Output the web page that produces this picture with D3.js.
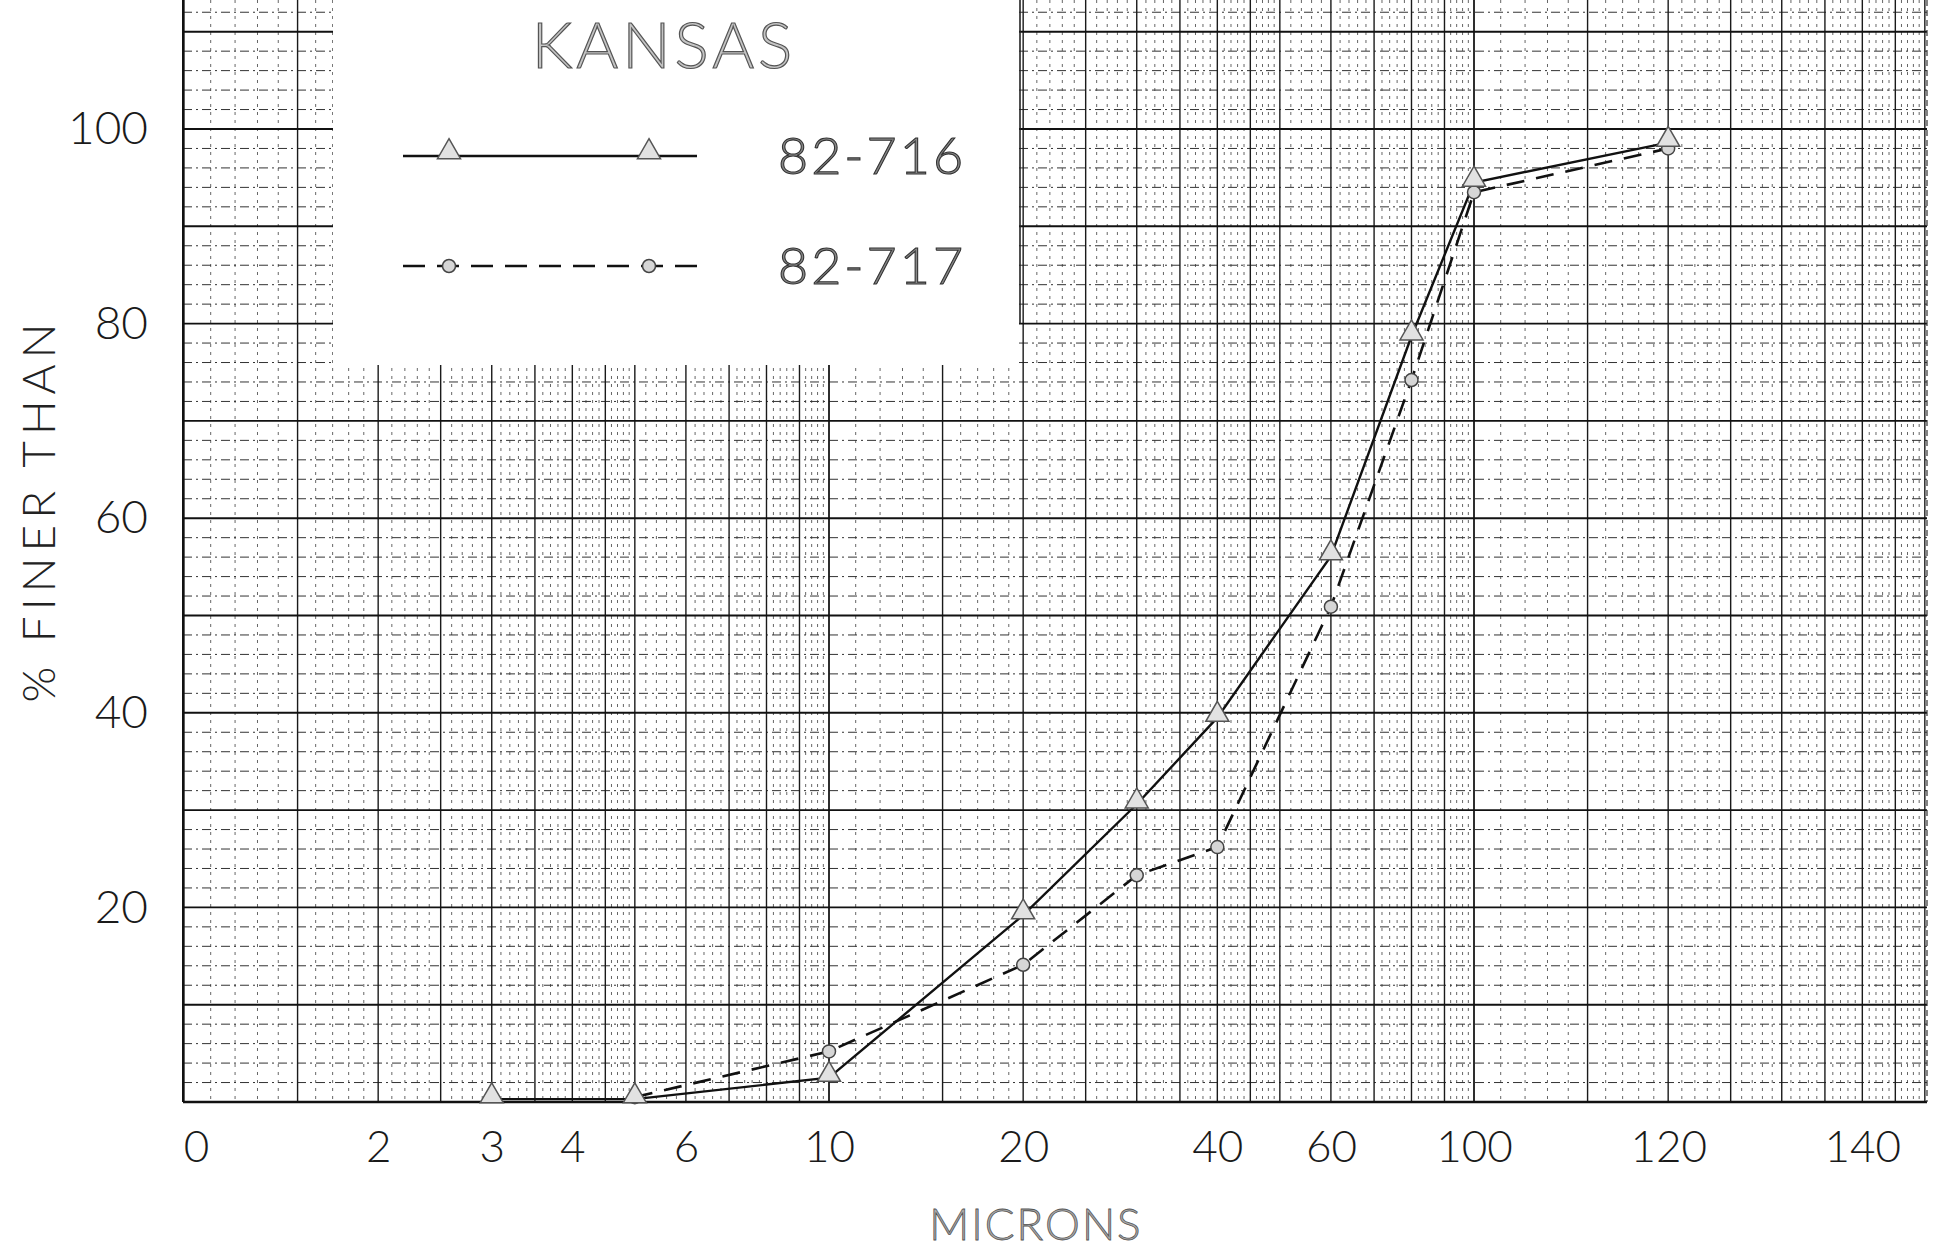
<!DOCTYPE html>
<html>
<head>
<meta charset="utf-8">
<script src="https://cdn.jsdelivr.net/npm/d3@7"></script>
<style>
  body { margin: 0; background: #fff; }
  text { font-family: Lato, "DejaVu Sans", sans-serif; font-weight: 300; }
</style>
</head>
<body>
<svg id="chart"></svg>
<script>
// particle size (microns, as labelled on the sheet) and % finer than
const sizes716 = [3, 5, 10, 20, 30, 40, 60, 80, 100, 120];
const finer716 = [0.3, 0.3, 2.5, 19.2, 30.6, 39.5, 56.1, 78.7, 94.5, 98.6];
const sizes717 = [5, 10, 20, 30, 40, 60, 80, 100, 120];
const finer717 = [0.5, 5.2, 14.1, 23.3, 26.2, 50.9, 74.2, 93.5, 98.0];

const micronTicks = [0, 2, 3, 4, 6, 10, 20, 40, 60, 100, 120, 140];
const percentTicks = [20, 40, 60, 80, 100];
const seriesNames = ["82-716", "82-717"];

let width = 1934, height = 1249;
const left = 183, right = 1927, bottom = 1102;

const svg = d3.select("#chart")
    .attr("width", width)
    .attr("height", height);

svg.append("rect").attr("width", width).attr("height", height).attr("fill", "#fff");

// semi-log sheet, 645px per decade
const paper = d3.scaleLog().domain([1, 1000]).range([left + 1, left + 1 + 3 * 645]);
// the sheet was labelled oddly: 0 sits on 1, and 120 / 140 sit on 200 / 400
const toPaper = v => v <= 100 ? Math.max(v, 1) : 100 * Math.pow(2, (v - 100) / 20);
const x = v => paper(toPaper(v));

const y = d3.scaleLinear().domain([0, 100]).range([bottom, 129]);

// grid values
let heavyX = [], minorX = [];
[1, 10, 100].forEach(dec => {
    for (let m = 1; m < 10; m += 0.1) {
        const mm = Math.round(m * 10) / 10;
        if (mm > 5 && Math.round(mm * 10) % 2 === 1) continue;
        const heavy = (mm <= 5 && Math.round(mm * 10) % 5 === 0) || (mm > 5 && Number.isInteger(mm));
        const v = mm * dec;
        if (paper(v) > right) continue;
        (heavy ? heavyX : minorX).push(v);
    }
});

let heavyY = [], minorY = [];
for (let v = 0; y(v) >= 0; v += 2) {
    (v % 10 === 0 ? heavyY : minorY).push(v);
}

const grid = svg.append("g").attr("class", "grid");

grid.selectAll(".vminor").data(minorX).enter().append("line")
    .attr("x1", d => paper(d)).attr("x2", d => paper(d))
    .attr("y1", 0).attr("y2", bottom)
    .attr("stroke", "#555").attr("stroke-width", 0.9)
    .attr("stroke-dasharray", "3,5");

grid.selectAll(".hminor").data(minorY).enter().append("line")
    .attr("x1", left).attr("x2", right)
    .attr("y1", d => y(d)).attr("y2", d => y(d))
    .attr("stroke", "#333").attr("stroke-width", 1)
    .attr("stroke-dasharray", "9,4,2,4");

grid.selectAll(".vheavy").data(heavyX).enter().append("line")
    .attr("x1", d => paper(d)).attr("x2", d => paper(d))
    .attr("y1", 0).attr("y2", bottom)
    .attr("stroke", "#1a1a1a").attr("stroke-width", 1.4);

grid.selectAll(".hheavy").data(heavyY).enter().append("line")
    .attr("x1", left).attr("x2", right)
    .attr("y1", d => y(d)).attr("y2", d => y(d))
    .attr("stroke", "#111").attr("stroke-width", d => d === 0 ? 2.4 : 1.9);

grid.append("line").attr("x1", left).attr("x2", left).attr("y1", 0).attr("y2", bottom)
    .attr("stroke", "#111").attr("stroke-width", 2);
grid.append("line").attr("x1", right).attr("x2", right).attr("y1", 0).attr("y2", bottom)
    .attr("stroke", "#333").attr("stroke-width", 1.2).attr("stroke-dasharray", "6,4");

// pasted-over legend patch
svg.append("rect").attr("x", 333).attr("y", 0).attr("width", 686).attr("height", 365).attr("fill", "#fff");
svg.append("line").attr("x1", 1020).attr("x2", 1020).attr("y1", 0).attr("y2", y(80))
    .attr("stroke", "#222").attr("stroke-width", 1.6);

// axes (numbers only)
const xAxis = d3.axisBottom(paper)
    .tickValues(micronTicks.map(toPaper))
    .tickFormat((d, i) => micronTicks[i])
    .tickSize(0).tickPadding(29);
const gx = svg.append("g").attr("transform", `translate(0,${bottom})`).call(xAxis);
gx.select(".domain").remove();
gx.selectAll("text").attr("font-size", 44).attr("fill", "#1a1a1a")
    .attr("dx", (d, i) => i === 0 ? 12 : 0)
    .style("font-family", "Lato, 'DejaVu Sans', sans-serif").style("font-weight", 300);

const yAxis = d3.axisLeft(y).tickValues(percentTicks).tickSize(0).tickPadding(35);
const gy = svg.append("g").attr("transform", `translate(${left},0)`).call(yAxis);
gy.select(".domain").remove();
gy.selectAll("text").attr("font-size", 46).attr("fill", "#1a1a1a")
    .style("font-family", "Lato, 'DejaVu Sans', sans-serif").style("font-weight", 300);

svg.append("text").attr("x", 1036).attr("y", 1240).attr("text-anchor", "middle")
    .attr("font-size", 44).attr("letter-spacing", 2)
    .attr("fill", "#aaa").attr("stroke", "#555").attr("stroke-width", 0.8)
    .text("MICRONS");

svg.append("text").attr("transform", "translate(55,510) rotate(-90)")
    .attr("text-anchor", "middle").attr("font-size", 46).attr("letter-spacing", 6)
    .attr("fill", "#222")
    .text("% FINER THAN");

// series
const data716 = sizes716.map((s, i) => ({s: s, v: finer716[i]}));
const data717 = sizes717.map((s, i) => ({s: s, v: finer717[i]}));

const line = d3.line().x(d => x(d.s)).y(d => y(d.v));

svg.append("path").datum(data717).attr("d", line)
    .attr("fill", "none").attr("stroke", "#111").attr("stroke-width", 2.6)
    .attr("stroke-dasharray", "18,12");
svg.append("path").datum(data716).attr("d", line)
    .attr("fill", "none").attr("stroke", "#111").attr("stroke-width", 2.4);

const tri = d3.symbol(d3.symbolTriangle).size(230);

svg.selectAll(".c717").data(data717).enter().append("circle")
    .attr("cx", d => x(d.s)).attr("cy", d => y(d.v)).attr("r", 6.5)
    .attr("fill", "#d6d6d6").attr("stroke", "#444").attr("stroke-width", 1.5);
svg.selectAll(".t716").data(data716).enter().append("path")
    .attr("d", tri)
    .attr("transform", d => `translate(${x(d.s)},${y(d.v) - 3})`)
    .attr("fill", "#e2e2e2").attr("stroke", "#555").attr("stroke-width", 1.5);

// legend
svg.append("text").attr("x", 664).attr("y", 68).attr("text-anchor", "middle")
    .attr("font-size", 64).attr("letter-spacing", 4)
    .attr("fill", "#c4c4c4").attr("stroke", "#555").attr("stroke-width", 1.2)
    .text("KANSAS");

const legendRows = [
    {name: seriesNames[0], y: 156, dash: null, mark: "tri"},
    {name: seriesNames[1], y: 266, dash: "22,12", mark: "circle"}
];
legendRows.forEach(r => {
    svg.append("line").attr("x1", 403).attr("x2", 697).attr("y1", r.y).attr("y2", r.y)
        .attr("stroke", "#111").attr("stroke-width", 2.4)
        .attr("stroke-dasharray", r.dash);
    [449, 649].forEach(cx => {
        if (r.mark === "tri") {
            svg.append("path").attr("d", tri).attr("transform", `translate(${cx},${r.y - 4})`)
                .attr("fill", "#e2e2e2").attr("stroke", "#555").attr("stroke-width", 1.5);
        } else {
            svg.append("circle").attr("cx", cx).attr("cy", r.y).attr("r", 6.5)
                .attr("fill", "#d6d6d6").attr("stroke", "#444").attr("stroke-width", 1.5);
        }
    });
    svg.append("text").attr("x", 778).attr("y", r.y + 18)
        .attr("font-size", 52).attr("letter-spacing", 3)
        .attr("fill", "#888").attr("stroke", "#333").attr("stroke-width", 1.1)
        .text(r.name);
});
</script>
</body>
</html>
